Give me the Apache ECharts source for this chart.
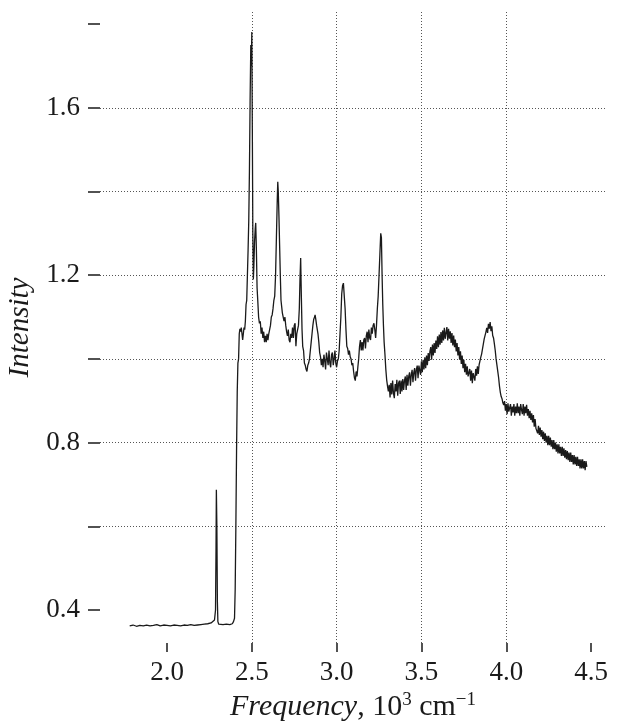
<!DOCTYPE html>
<html>
<head>
<meta charset="utf-8">
<script src="https://cdn.jsdelivr.net/npm/echarts@6/dist/echarts.min.js"></script>
<style>
html,body{margin:0;padding:0;background:#fff;}
#chart{width:617px;height:722px;}
</style>
</head>
<body>
<div id="chart"></div>
<script>
// Tick values
const xTicks = [2.0, 2.5, 3.0, 3.5, 4.0, 4.5];
const yTicks = [0.4, 0.6, 0.8, 1.0, 1.2, 1.4, 1.6, 1.8];
const yLabels = [0.4, 0.8, 1.2, 1.6];

// Spectrum segments: [frequency (10^3 cm^-1), intensity]
const lowBaseline = [
  [1.78,0.362],[1.80,0.364],[1.82,0.361],[1.84,0.363],[1.86,0.362],[1.88,0.364],[1.90,0.362],
  [1.92,0.363],[1.94,0.365],[1.96,0.362],[1.98,0.364],[2.00,0.363],[2.02,0.362],[2.04,0.364],
  [2.06,0.363],[2.08,0.362],[2.10,0.364],[2.12,0.363],[2.14,0.365],[2.16,0.363],[2.18,0.364],
  [2.20,0.365],[2.22,0.366],[2.24,0.367],[2.26,0.369],[2.27,0.371],[2.28,0.376],[2.286,0.40],
  [2.289,0.55],[2.291,0.687],[2.294,0.60],[2.297,0.42],[2.300,0.372],[2.305,0.366],[2.31,0.366],
  [2.33,0.365],[2.35,0.366],[2.37,0.365],[2.385,0.367],[2.392,0.372]
];
const sharpPeaks = [
  [2.398,0.38],[2.402,0.45],[2.406,0.60],[2.410,0.78],[2.414,0.92],[2.418,0.99],[2.422,1.00],
  [2.426,1.06],[2.430,1.072],[2.434,1.065],[2.438,1.075],[2.442,1.06],[2.446,1.045],[2.450,1.06],
  [2.454,1.075],[2.458,1.07],[2.462,1.09],[2.466,1.13],[2.470,1.14],[2.474,1.20],[2.478,1.26],
  [2.482,1.33],[2.486,1.45],[2.490,1.62],[2.494,1.75],[2.497,1.70],[2.500,1.781],[2.503,1.55],
  [2.506,1.30],[2.509,1.19],[2.512,1.22],[2.516,1.28],[2.520,1.31],[2.523,1.325],[2.527,1.26],
  [2.531,1.17],[2.535,1.14],[2.540,1.10],[2.545,1.085],[2.550,1.09],[2.555,1.06],[2.560,1.075],
  [2.565,1.05],[2.570,1.065],[2.575,1.04],[2.580,1.055],[2.585,1.04],[2.590,1.06],[2.595,1.045],
  [2.600,1.06],[2.605,1.07],[2.610,1.08],[2.615,1.10],[2.620,1.105],[2.625,1.12],[2.630,1.14],
  [2.635,1.15],[2.640,1.20],[2.645,1.29],[2.650,1.38],[2.653,1.423],[2.656,1.40],[2.660,1.34],
  [2.664,1.27],[2.668,1.20],[2.672,1.14],[2.676,1.125],[2.680,1.11],[2.685,1.10],[2.690,1.09],
  [2.695,1.10],[2.700,1.08],[2.705,1.065],[2.710,1.055],[2.715,1.07],[2.720,1.045],[2.725,1.04],
  [2.730,1.06],[2.735,1.05],[2.740,1.075],[2.745,1.05],[2.750,1.08],[2.755,1.085],[2.760,1.03],
  [2.765,1.06],[2.770,1.07],[2.775,1.08],[2.780,1.12],[2.784,1.19],[2.788,1.241],[2.792,1.15],
  [2.796,1.07],[2.800,1.03],[2.805,1.02],[2.810,0.99],[2.815,0.985],[2.820,0.975],[2.825,0.97],
  [2.830,0.985],[2.835,0.99],[2.840,1.00],[2.845,1.02],[2.850,1.04],[2.855,1.06],[2.860,1.08],
  [2.865,1.095],[2.870,1.10],[2.873,1.105],[2.877,1.095],[2.882,1.08],[2.886,1.07],[2.890,1.06],
  [2.895,1.04],[2.900,1.015],[2.905,1.005],[2.910,0.985],[2.915,1.00],[2.920,0.98],[2.925,1.01],
  [2.930,0.995],[2.935,0.975],[2.940,1.015],[2.945,1.00],[2.950,0.985],[2.955,1.02],[2.960,0.99],
  [2.965,0.98],[2.970,1.01],[2.975,1.015],[2.980,0.985],[2.985,1.00],[2.990,1.02],[2.995,0.99],
  [3.000,0.98],[3.005,0.995],[3.010,1.00],[3.015,1.02],[3.020,1.06],[3.025,1.10],[3.030,1.155],
  [3.035,1.175],[3.040,1.181],[3.045,1.15],[3.050,1.12],[3.055,1.07],[3.060,1.03],[3.065,1.025],
  [3.070,1.01],[3.075,1.02],[3.080,1.005],[3.085,1.00],[3.090,0.985],[3.095,0.99],[3.100,0.97],
  [3.105,0.955],[3.110,0.948],[3.115,0.97],[3.120,0.958],[3.125,0.98],[3.130,1.00],[3.135,1.03],
  [3.140,1.045],[3.145,1.02],[3.150,1.04],[3.155,1.02],[3.160,1.045],[3.165,1.05],[3.170,1.025],
  [3.175,1.055],[3.180,1.065],[3.185,1.04],[3.190,1.07],[3.195,1.05],[3.200,1.045],[3.205,1.075],
  [3.210,1.06],[3.215,1.08],[3.220,1.085],[3.225,1.07],[3.230,1.05],[3.235,1.08],[3.240,1.12],
  [3.245,1.15],[3.250,1.20],[3.255,1.25],[3.260,1.30],[3.264,1.29],[3.268,1.20],[3.272,1.13],
  [3.276,1.08],[3.280,1.04],[3.285,1.01],[3.290,0.975],[3.295,0.95],[3.300,0.935]
];
const broadBand = [
  [3.305,0.922],[3.310,0.938],[3.315,0.908],[3.320,0.942],[3.325,0.915],[3.330,0.948],[3.335,0.918],
  [3.340,0.906],[3.345,0.94],[3.350,0.922],[3.355,0.95],[3.360,0.912],[3.365,0.942],[3.370,0.948],
  [3.375,0.916],[3.380,0.948],[3.385,0.922],[3.390,0.952],[3.395,0.926],[3.400,0.948],[3.405,0.958],
  [3.410,0.926],[3.415,0.962],[3.420,0.936],[3.425,0.958],[3.430,0.968],[3.435,0.936],[3.440,0.962],
  [3.445,0.974],[3.450,0.944],[3.455,0.968],[3.460,0.978],[3.465,0.948],[3.470,0.974],[3.475,0.984],
  [3.480,0.954],[3.485,0.984],[3.490,0.988],[3.495,0.962],[3.500,0.994],[3.505,0.968],[3.510,0.998],
  [3.515,0.975],[3.520,1.004],[3.525,0.978],[3.530,1.008],[3.535,0.985],[3.540,1.014],[3.545,0.995],
  [3.550,1.018],[3.555,1.028],[3.560,0.998],[3.565,1.034],[3.570,1.008],[3.575,1.038],[3.580,1.014],
  [3.585,1.044],[3.590,1.024],[3.595,1.054],[3.600,1.028],[3.605,1.058],[3.610,1.034],[3.615,1.064],
  [3.620,1.038],[3.625,1.068],[3.630,1.044],[3.635,1.074],[3.640,1.048],[3.645,1.062],[3.650,1.076],
  [3.655,1.044],[3.660,1.072],[3.665,1.048],[3.670,1.066],[3.675,1.038],[3.680,1.062],[3.685,1.032],
  [3.690,1.056],[3.695,1.028],[3.700,1.046],[3.705,1.018],[3.710,1.038],[3.715,1.008],[3.720,1.028],
  [3.725,0.998],[3.730,1.018],[3.735,0.988],[3.740,1.008],[3.745,0.978],[3.750,0.998],[3.755,0.968],
  [3.760,0.988],[3.765,0.962],[3.770,0.982],[3.775,0.958],[3.780,0.954],[3.785,0.976],[3.790,0.948],
  [3.795,0.972],[3.800,0.942],[3.805,0.966],[3.810,0.968],[3.815,0.948],[3.820,0.976],[3.825,0.96],
  [3.830,0.982],[3.835,0.964],[3.840,0.986],[3.845,0.99],[3.850,1.004],[3.855,1.012],[3.860,1.024],
  [3.865,1.036],[3.870,1.048],[3.875,1.052],[3.880,1.064],[3.885,1.074],[3.890,1.062],[3.895,1.084],
  [3.900,1.072],[3.905,1.088],[3.910,1.066],[3.915,1.078],[3.920,1.056],[3.925,1.05],[3.930,1.036],
  [3.935,1.02],[3.940,1.00],[3.945,0.985],[3.950,0.97],[3.955,0.955],[3.960,0.935],[3.965,0.92],
  [3.970,0.91],[3.975,0.905],[3.980,0.895],[3.985,0.89]
];
const tail = [
  [3.990,0.899],[3.995,0.876],[4.000,0.892],[4.005,0.868],[4.010,0.894],[4.015,0.874],[4.020,0.87],
  [4.025,0.892],[4.030,0.864],[4.035,0.886],[4.040,0.872],[4.045,0.892],[4.050,0.864],[4.055,0.886],
  [4.060,0.87],[4.065,0.894],[4.070,0.87],[4.075,0.886],[4.080,0.864],[4.085,0.892],[4.090,0.878],
  [4.095,0.868],[4.100,0.892],[4.105,0.864],[4.110,0.886],[4.115,0.87],[4.120,0.89],[4.125,0.864],
  [4.130,0.88],[4.135,0.858],[4.140,0.876],[4.145,0.854],[4.150,0.87],[4.155,0.848],[4.160,0.866],
  [4.165,0.838],[4.170,0.856],[4.175,0.834],[4.180,0.838],[4.185,0.822],[4.190,0.84],[4.195,0.818],
  [4.200,0.836],[4.205,0.814],[4.210,0.83],[4.215,0.808],[4.220,0.826],[4.225,0.804],[4.230,0.822],
  [4.235,0.8],[4.240,0.816],[4.245,0.794],[4.250,0.816],[4.255,0.794],[4.260,0.812],[4.265,0.79],
  [4.270,0.806],[4.275,0.784],[4.280,0.806],[4.285,0.784],[4.290,0.8],[4.295,0.778],[4.300,0.796],
  [4.305,0.774],[4.310,0.796],[4.315,0.774],[4.320,0.79],[4.325,0.768],[4.330,0.79],[4.335,0.768],
  [4.340,0.786],[4.345,0.764],[4.350,0.782],[4.355,0.76],[4.360,0.78],[4.365,0.758],[4.370,0.776],
  [4.375,0.754],[4.380,0.776],[4.385,0.754],[4.390,0.77],[4.395,0.748],[4.400,0.77],[4.405,0.748],
  [4.410,0.766],[4.415,0.744],[4.420,0.766],[4.425,0.744],[4.430,0.76],[4.435,0.738],[4.440,0.76],
  [4.445,0.738],[4.450,0.76],[4.455,0.738],[4.460,0.756],[4.465,0.734],[4.470,0.756],[4.475,0.742]
];

const spectrum = lowBaseline.concat(sharpPeaks, broadBand, tail);

const FONT = '"Liberation Serif", "Times New Roman", serif';
const INK = '#1a1a1a';

const chart = echarts.init(document.getElementById('chart'), null, {renderer: 'canvas'});
chart.setOption({
  animation: false,
  backgroundColor: '#fff',
  grid: {left: 100, right: 11, top: 12, bottom: 79, containLabel: false, outerBoundsMode: 'none'},
  xAxis: {
    type: 'value',
    min: 1.605,
    max: 4.588,
    axisLine: {show: false},
    axisTick: {show: true, length: 9, customValues: xTicks, lineStyle: {color: INK, width: 1.5}},
    axisLabel: {
      customValues: xTicks,
      formatter: v => v.toFixed(1),
      fontFamily: FONT, fontSize: 27, color: INK, margin: 16
    },
    splitLine: {show: true, showMinLine: false, showMaxLine: false,
      lineStyle: {type: [1, 2], color: '#555', width: 1}},
    name: '{i|Frequency}{n|, 10}{s|3}{n| cm}{s|\u22121}',
    nameLocation: 'middle',
    nameGap: 44,
    nameTextStyle: {
      rich: {
        i: {fontFamily: FONT, fontStyle: 'italic', fontSize: 30, color: INK, lineHeight: 32},
        n: {fontFamily: FONT, fontSize: 30, color: INK, lineHeight: 32},
        s: {fontFamily: FONT, fontSize: 19, color: INK, lineHeight: 18, verticalAlign: 'top'}
      }
    }
  },
  yAxis: {
    type: 'value',
    min: 0.321,
    max: 1.829,
    axisLine: {show: false},
    axisTick: {show: true, length: 12, customValues: yTicks, lineStyle: {color: INK, width: 1.5}},
    axisLabel: {
      customValues: yLabels,
      formatter: v => v.toFixed(1),
      fontFamily: FONT, fontSize: 27, color: INK, margin: 20
    },
    splitLine: {show: true, showMinLine: false, showMaxLine: false,
      lineStyle: {type: [1, 2], color: '#555', width: 1}},
    name: 'Intensity',
    nameLocation: 'middle',
    nameGap: 59,
    nameTextStyle: {fontFamily: FONT, fontStyle: 'italic', fontSize: 29, color: INK}
  },
  series: [{
    type: 'line',
    data: spectrum,
    showSymbol: false,
    symbol: 'none',
    sampling: null,
    lineStyle: {color: INK, width: 1.3},
    silent: true
  }]
});
</script>
</body>
</html>
